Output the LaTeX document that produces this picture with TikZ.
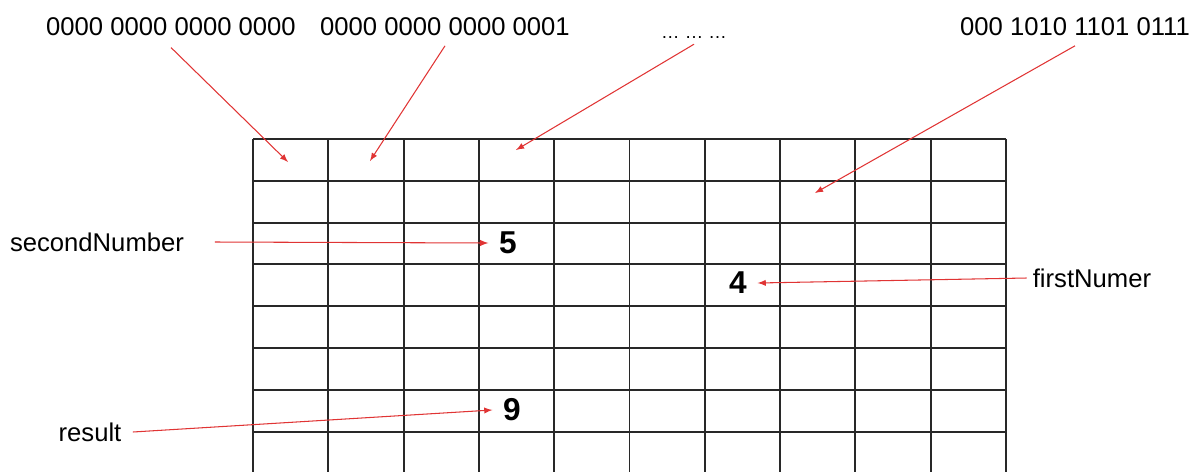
\documentclass[tikz,border=0pt]{standalone}
\usepackage{fontspec}
\setmainfont{Liberation Sans}
\definecolor{rojoflecha}{RGB}{224,52,52}
\definecolor{gristabla}{RGB}{40,40,40}
\begin{document}
\begin{tikzpicture}[x=0.02cm, y=-0.02cm, font=\fontsize{14.6}{17}\selectfont,
    flecha/.style={arrows={-latex}, line width=0.6pt, rojoflecha},
    rejilla/.style={line width=1.1pt, gristabla},
    valor/.style={font=\fontsize{18}{20}\selectfont\bfseries, inner sep=6pt}]

            \useasboundingbox (0,0) rectangle (1197,471);

            % --- Rejilla de memoria ---
            \begin{scope}
                \clip (0,0) rectangle (1197,471);
                \foreach \i in {0,...,10}
                    \draw[rejilla] ({253+75.3*\i},139) -- ({253+75.3*\i},480);
                \foreach \j in {0,...,7}
                    \draw[rejilla] (253,{139+41.8*\j}) -- (1006,{139+41.8*\j});
            \end{scope}

            % --- Direcciones de memoria ---
            \node (dirA) at (171,27) {0000 0000 0000 0000};
            \node (dirB) at (445,27) {0000 0000 0000 0001};
            \node[anchor=base, font=\fontsize{10.5}{12}\selectfont] (dirN) at (694,38) {… … …};
            \node (dirZ) at (1075,27) {000 1010 1101 0111};

            % Celdas a las que apuntan
            \coordinate (celdaA) at (288,162);
            \coordinate (celdaB) at (370,161);
            \coordinate (celdaN) at (516,150);
            \coordinate (celdaZ) at (815,193);

            \draw[flecha] ([yshift=-3pt]dirA.south) -- (celdaA);
            \draw[flecha] ([yshift=-2pt]dirB.south) -- (celdaB);
            \draw[flecha] (dirN.south) -- (celdaN);
            \draw[flecha] ([yshift=-2pt]dirZ.south) -- (celdaZ);

            % --- Variables y sus valores ---
            \node[valor] (cinco) at (508,243) {5};
            \node[valor] (cuatro) at (738,283) {4};
            \node[valor] (nueve) at (512,410) {9};

            \node (second) at (97,242) {secondNumber};
            \node (first) at (1092,278) {firstNumer};
            \node (result) at (90,432) {result};

            \draw[flecha] ([xshift=14pt]second.east) -- (cinco.west);
            \draw[flecha] (first.west) -- (cuatro.east);
            \draw[flecha] ([xshift=3pt]result.east) -- (nueve.west);

        \end{tikzpicture}
\end{document}
